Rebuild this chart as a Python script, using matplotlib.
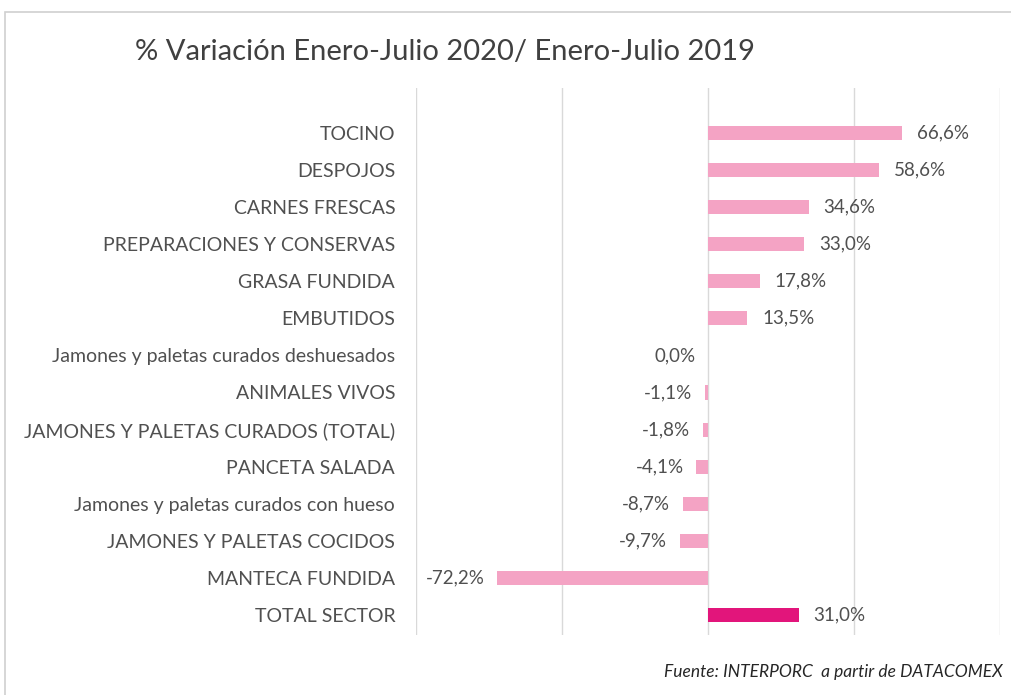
import matplotlib.pyplot as plt
from matplotlib.patches import Rectangle

# data
categories = ['TOCINO', 'DESPOJOS', 'CARNES FRESCAS', 'PREPARACIONES Y CONSERVAS',
              'GRASA FUNDIDA', 'EMBUTIDOS', 'Jamones y paletas curados deshuesados',
              'ANIMALES VIVOS', 'JAMONES Y PALETAS CURADOS (TOTAL)', 'PANCETA SALADA',
              'Jamones y paletas curados con hueso', 'JAMONES Y PALETAS COCIDOS',
              'MANTECA FUNDIDA', 'TOTAL SECTOR']
values = [66.6, 58.6, 34.6, 33.0, 17.8, 13.5, 0.0, -1.1, -1.8, -4.1, -8.7, -9.7, -72.2, 31.0]

plt.rcParams['font.family'] = ['Lato', 'DejaVu Sans']

fig = plt.figure(figsize=(10.11, 6.95), dpi=100)
# light frame round the chart, as in the screenshot
fig.patches.append(Rectangle((5 / 1011, -0.01), 1.02, 1 - 12 / 695 + 0.01,
                             transform=fig.transFigure, fill=False,
                             edgecolor='#d0d0d0', linewidth=1.2))

ax = fig.add_axes([416 / 1011, 1 - 635 / 695, (1000 - 416) / 1011, (635 - 88) / 695])

colors = ['#f4a3c4'] * (len(values) - 1) + ['#e2157b']
y = list(range(len(categories)))
ax.barh(y, values, height=0.38, color=colors, zorder=3)

for yi, v in zip(y, values):
    txt = f'{v:.1f}%'.replace('.', ',')
    if v > 0:
        ax.annotate(txt, (v, yi), xytext=(10.5, 0), textcoords='offset points',
                    ha='left', va='center', fontsize=13.5, color='#505050')
    else:
        ax.annotate(txt, (v, yi), xytext=(-9, 0), textcoords='offset points',
                    ha='right', va='center', fontsize=13.5, color='#505050')

ax.set_xlim(-100, 100)
ax.set_ylim(13.54, -1.21)
ax.set_xticks([-100, -50, 0, 50, 100])
ax.set_xticklabels([])
ax.set_yticks(y)
ax.set_yticklabels(categories, fontsize=14, color='#505050')
ax.tick_params(axis='both', length=0, pad=15)
ax.grid(axis='x', color='#d9d9d9', linewidth=1, zorder=0)
for s in ax.spines.values():
    s.set_visible(False)

fig.text(135 / 1011, 1 - 52 / 695, '% Variación Enero-Julio 2020/ Enero-Julio 2019',
         fontsize=21, color='#404040', ha='left', va='center')
fig.text(1003 / 1011, 1 - 672 / 695, 'Fuente: INTERPORC  a partir de DATACOMEX',
         fontsize=12.5, style='italic', color='#262626', ha='right', va='center')

fig.savefig('out.png', dpi=100)
